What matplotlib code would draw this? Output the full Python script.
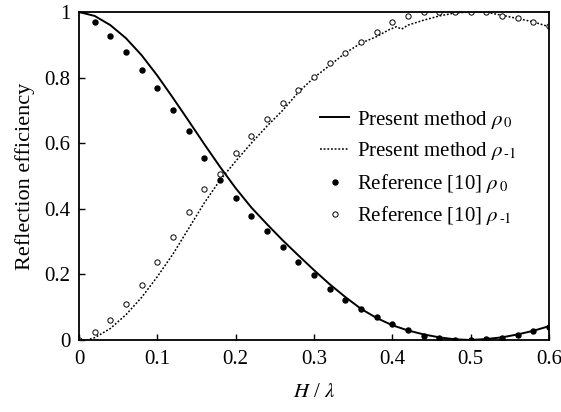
import matplotlib
matplotlib.use("Agg")
from matplotlib import pyplot as plt

plt.rcParams['font.family'] = ['Liberation Serif', 'DejaVu Serif']
plt.rcParams['mathtext.fontset'] = 'stix'

# present method, rho_0 (solid)
x_line0 = [0, 0.02, 0.04, 0.06, 0.08, 0.10, 0.12, 0.14, 0.16, 0.18, 0.20,
           0.22, 0.24, 0.26, 0.28, 0.30, 0.32, 0.34, 0.36, 0.38, 0.40,
           0.42, 0.44, 0.46, 0.48, 0.50, 0.52, 0.54, 0.56, 0.58, 0.60]
rho0_line = [1.0, 0.988, 0.96, 0.92, 0.868, 0.806, 0.738, 0.668, 0.597, 0.528, 0.463,
             0.404, 0.353, 0.304, 0.258, 0.213, 0.17, 0.131, 0.095, 0.067, 0.045,
             0.029, 0.017, 0.008, 0.002, 0.0, 0.003, 0.008, 0.017, 0.028, 0.042]

# present method, rho_-1 (dotted)
x_line1 = [0, 0.01, 0.02, 0.04, 0.06, 0.08, 0.10, 0.12, 0.14, 0.16, 0.18, 0.20,
           0.22, 0.24, 0.26, 0.28, 0.30, 0.32, 0.34, 0.36, 0.38, 0.395, 0.405,
           0.412, 0.42, 0.44, 0.46, 0.48, 0.50, 0.52, 0.54, 0.56, 0.58, 0.60]
rho1_line = [0.0, 0.0, 0.007, 0.035, 0.077, 0.13, 0.193, 0.262, 0.34, 0.418, 0.487, 0.545,
             0.60, 0.652, 0.70, 0.755, 0.80, 0.837, 0.875, 0.905, 0.925, 0.945, 0.955,
             0.948, 0.96, 0.975, 0.988, 0.997, 1.0, 0.999, 0.99, 0.98, 0.97, 0.955]

# reference [10]
x_ref = [0.02, 0.04, 0.06, 0.08, 0.10, 0.12, 0.14, 0.16, 0.18, 0.20,
         0.22, 0.24, 0.26, 0.28, 0.30, 0.32, 0.34, 0.36, 0.38, 0.40,
         0.42, 0.44, 0.46, 0.48, 0.50, 0.52, 0.54, 0.56, 0.58, 0.60]
rho0_ref = [0.970, 0.927, 0.878, 0.824, 0.767, 0.701, 0.636, 0.556, 0.489, 0.432,
            0.379, 0.333, 0.285, 0.237, 0.197, 0.154, 0.121, 0.094, 0.069, 0.049,
            0.031, 0.013, 0.005, 0.0, 0.0, 0.002, 0.007, 0.015, 0.027, 0.039]
x_ref1 = [0.0] + x_ref
rho1_ref = [0.0, 0.024, 0.060, 0.110, 0.168, 0.239, 0.313, 0.391, 0.461, 0.507, 0.570,
            0.622, 0.675, 0.723, 0.761, 0.802, 0.843, 0.876, 0.909, 0.940, 0.968,
            0.988, 0.999, 1.0, 1.0, 1.0, 0.999, 0.989, 0.981, 0.970, 0.957]

fig = plt.figure(figsize=(5.61, 4.12), dpi=100)
ax = fig.add_axes([0.1408, 0.1748, 0.8378, 0.7961])

ax.plot(x_line0, rho0_line, color='black', lw=1.4, label=r'Present method $\rho_{\,0}$')
ax.plot(x_line1, rho1_line, color='black', lw=1.1, linestyle=(0, (1.2, 1.2)),
        label=r'Present method $\rho_{\,\text{-1}}$')
ax.plot(x_ref, rho0_ref, 'o', color='black', ms=3.6, lw=0,
        label=r'Reference [10] $\rho_{\,0}$')
ax.plot(x_ref1, rho1_ref, 'o', mfc='white', mec='black', mew=0.7, ms=3.8, lw=0,
        label=r'Reference [10] $\rho_{\,\text{-1}}$')

ax.set_xlim(0, 0.6)
ax.set_ylim(0, 1)
ax.set_xticks([0, 0.1, 0.2, 0.3, 0.4, 0.5, 0.6])
ax.set_xticklabels(['0', '0.1', '0.2', '0.3', '0.4', '0.5', '0.6'])
ax.set_yticks([0, 0.2, 0.4, 0.6, 0.8, 1])
ax.set_yticklabels(['0', '0.2', '0.4', '0.6', '0.8', '1'])
ax.tick_params(direction='in', length=4.5, width=1, labelsize=15)
ax.tick_params(axis='x', pad=7)
ax.tick_params(axis='y', pad=6)
for s in ax.spines.values():
    s.set_linewidth(1.3)

ax.set_xlabel(r'$H$ / $\lambda$', fontsize=15, labelpad=10)
ax.set_ylabel('Reflection efficiency', fontsize=16, labelpad=7)

ax.legend(loc='upper left', bbox_to_anchor=(0.513, 0.705), frameon=False, fontsize=15,
          handlelength=1.4, handletextpad=0.35, labelspacing=0.46, borderpad=0,
          borderaxespad=0)

fig.savefig('out.png', dpi=100)
